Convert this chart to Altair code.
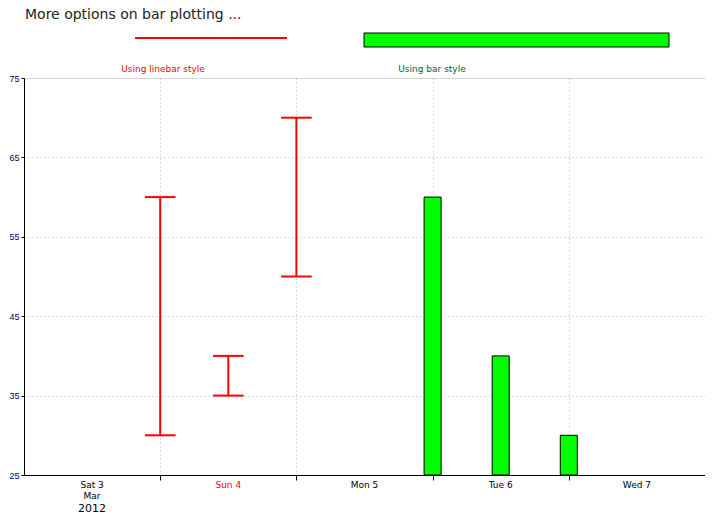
import altair as alt
import pandas as pd

# hours since Sat 3 Mar 2012 00:00
line_hours = [24, 36, 48]
line_low = [30, 35, 50]
line_high = [60, 40, 70]
bar_hours = [72, 84, 96]
bar_values = [60, 40, 30]
day_labels = ["Sat 3", "Sun 4", "Mon 5", "Tue 6", "Wed 7"]
day_centers = [12, 36, 60, 84, 108]
day_colors = ["black", "red", "black", "black", "black"]

W, H = 681, 397
xs = alt.Scale(domain=[0, 120], nice=False)
ys = alt.Scale(domain=[25, 75], nice=False)

lines = pd.DataFrame({"t": line_hours, "lo": line_low, "hi": line_high})
lines["a"] = lines["t"] - 2.7
lines["b"] = lines["t"] + 2.7
bars = pd.DataFrame({"t": bar_hours, "v": bar_values, "base": 25})
bars["a"] = bars["t"] - 1.5
bars["b"] = bars["t"] + 1.5
days = pd.DataFrame({"t": day_centers, "label": day_labels, "c": day_colors})

base_axis = alt.Chart(lines).mark_rule(opacity=0).encode(
    x=alt.X("t:Q", scale=xs, title=None,
            axis=alt.Axis(values=[24, 48, 72, 96], labels=False, grid=True, gridDash=[1, 3],
                          gridColor="#bbbbbb", tickColor="black", domainColor="black")),
    y=alt.Y("lo:Q", scale=ys, title=None,
            axis=alt.Axis(values=[25, 35, 45, 55, 65, 75], grid=True, gridDash=[1, 3],
                          gridColor="#bbbbbb", labelColor="#000066", labelFontSize=9,
                          tickSize=3, domainColor="black", tickColor="black")),
)

vert = alt.Chart(lines).mark_rule(color="red", strokeWidth=2).encode(
    x="t:Q", y="lo:Q", y2="hi:Q")
cap_lo = alt.Chart(lines).mark_rule(color="red", strokeWidth=2).encode(
    x="a:Q", x2="b:Q", y="lo:Q")
cap_hi = alt.Chart(lines).mark_rule(color="red", strokeWidth=2).encode(
    x="a:Q", x2="b:Q", y="hi:Q")

bar = alt.Chart(bars).mark_rect(color="#00ff00", stroke="black", strokeWidth=1).encode(
    x="a:Q", x2="b:Q", y="v:Q", y2="base:Q")

labels = alt.Chart(days).mark_text(fontSize=9, font="DejaVu Sans").encode(
    x="t:Q", y=alt.value(H + 10), text="label:N",
    color=alt.Color("c:N", scale=None))


def note(s, x, y, size, color="black", align="center"):
    return alt.Chart(pd.DataFrame({"s": [s]})).mark_text(
        fontSize=size, font="DejaVu Sans", color=color, align=align).encode(
        x=alt.value(x), y=alt.value(y), text="s:N")


extra_mar = note("Mar", 68, H + 21, 9)
extra_year = note("2012", 68, H + 34, 11)
title = note("More options on bar plotting ...", 1, -63, 14, "#222222", "left")
leg_line = alt.Chart(pd.DataFrame({"k": [0]})).mark_rule(color="red", strokeWidth=2).encode(
    x=alt.value(111), x2=alt.value(263), y=alt.value(-40))
leg_bar = alt.Chart(pd.DataFrame({"k": [0]})).mark_rect(color="#00ff00", stroke="black").encode(
    x=alt.value(340), x2=alt.value(645), y=alt.value(-45), y2=alt.value(-31))
leg_t1 = note("Using linebar style", 139, -9, 9, "red")
leg_t2 = note("Using bar style", 408, -9, 9, "#006633")

chart = alt.layer(base_axis, vert, cap_lo, cap_hi, bar, labels, extra_mar, extra_year,
                  title, leg_line, leg_bar, leg_t1, leg_t2).properties(
    width=W, height=H, autosize="none",
    padding={"left": 16, "top": 70, "right": 0, "bottom": 45},
).configure_view(stroke="black", strokeWidth=1).configure(background="white")

chart.save("out.html", embed_options={"renderer": "svg", "actions": False})
